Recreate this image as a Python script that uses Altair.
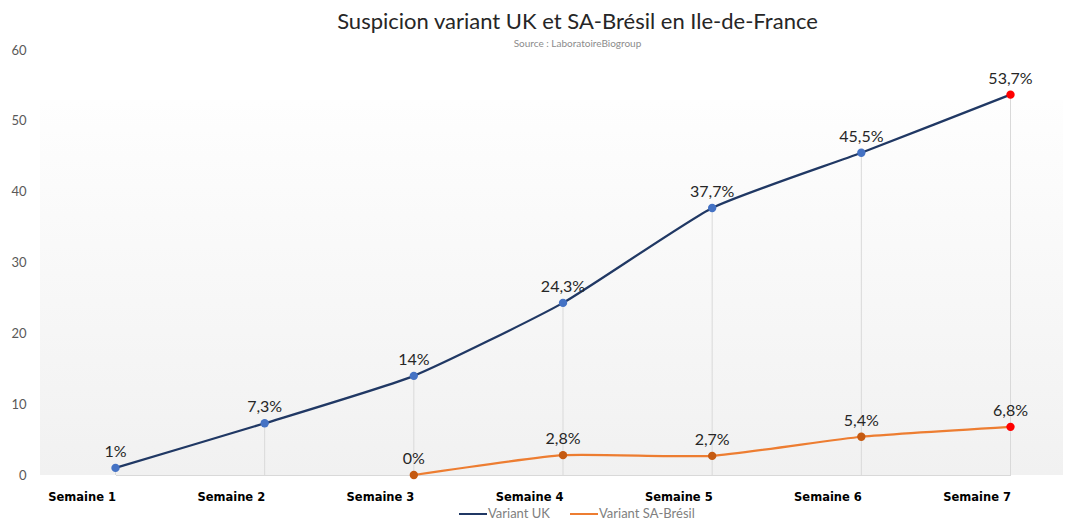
import altair as alt
import pandas as pd

weeks = ["Semaine 1", "Semaine 2", "Semaine 3", "Semaine 4", "Semaine 5", "Semaine 6", "Semaine 7"]
uk_values = [1, 7.3, 14, 24.3, 37.7, 45.5, 53.7]
sa_values = [None, None, 0, 2.8, 2.7, 5.4, 6.8]
series_names = ["Variant UK", "Variant SA-Brésil"]
line_colors = ["#203864", "#ED7D31"]
point_colors = ["#4472C4", "#C55A11"]
last_color = "#FF0000"

W, H = 1023, 425
FONT = "Lato"


def fmt(v):
    s = f"{v:g}".replace(".", ",")
    return s + "%"


rows = []
for name, vals, pc in zip(series_names, [uk_values, sa_values], point_colors):
    for i, (w, v) in enumerate(zip(weeks, vals)):
        if v is None:
            continue
        rows.append({
            "week": w, "value": v, "series": name,
            "pcolor": last_color if i == len(weeks) - 1 else pc,
            "label": fmt(v),
        })
df = pd.DataFrame(rows)

drop = pd.DataFrame({
    "week": weeks,
    "top": [max(u, s if s is not None else 0) for u, s in zip(uk_values, sa_values)],
})

xscale = alt.Scale(type="point", domain=weeks, range=[75.5, 970.5], padding=0)
yscale = alt.Scale(domain=[0, 60])

x_enc = alt.X("week:N", scale=xscale, sort=weeks, title=None,
              axis=alt.Axis(labelAngle=0, labelFont="DejaVu Sans", labelFontWeight="bold",
                            labelFontSize=11.5, labelColor="#000000", labelPadding=22,
                            ticks=False, domainColor="#d9d9d9", domainWidth=1, grid=False))
y_enc = alt.Y("value:Q", scale=yscale, title=None,
              axis=alt.Axis(values=[0, 10, 20, 30, 40, 50, 60], labelColor="#595959",
                            labelFont=FONT, labelFontSize=13, labelPadding=14,
                            ticks=False, domain=False, grid=False))

bg = alt.Chart(pd.DataFrame({"a": [0]})).mark_rect(
    color=alt.Gradient(
        gradient="linear",
        stops=[alt.GradientStop(color="#fefefe", offset=0),
               alt.GradientStop(color="#f1f1f1", offset=1)],
        x1=0, x2=0, y1=0, y2=1,
    )
).encode(x=alt.value(0), x2=alt.value(W + 8), y=alt.value(50), y2=alt.value(H))

drops = alt.Chart(drop).mark_rule(color="#d9d9d9", strokeWidth=1).encode(
    x=alt.X("week:N", scale=xscale, sort=weeks, title=None),
    y=alt.Y("top:Q", scale=yscale, title=None),
    y2=alt.datum(0),
)

lines = alt.Chart(df).mark_line(strokeWidth=2.25, interpolate="cardinal", tension=0.5).encode(
    x=x_enc,
    y=y_enc,
    color=alt.Color("series:N", scale=alt.Scale(domain=series_names, range=line_colors),
                    legend=alt.Legend(title=None, orient="none", direction="horizontal",
                                      legendX=418, legendY=449, symbolType="stroke",
                                      symbolSize=784, symbolStrokeWidth=2,
                                      labelFont=FONT, labelFontSize=13, labelColor="#808080",
                                      labelOffset=0, columnPadding=16)),
)

points = alt.Chart(df).mark_circle(size=70, opacity=1).encode(
    x=alt.X("week:N", scale=xscale, sort=weeks),
    y=alt.Y("value:Q", scale=yscale),
    color=alt.Color("pcolor:N", scale=None, legend=None),
)

labels = alt.Chart(df).mark_text(font=FONT, fontSize=16, color="#262626", baseline="bottom", dy=-8).encode(
    x=alt.X("week:N", scale=xscale, sort=weeks),
    y=alt.Y("value:Q", scale=yscale),
    text="label:N",
)

chart = alt.layer(bg, drops, lines, points, labels).resolve_scale(color="independent").properties(
    width=W, height=H,
    autosize=alt.AutoSizeParams(type="none"),
    padding={"left": 32, "top": 42, "right": 0, "bottom": 48},
    title=alt.TitleParams(
        text="Suspicion variant UK et SA-Brésil en Ile-de-France",
        subtitle="Source : LaboratoireBiogroup",
        font=FONT, fontSize=22, fontWeight="normal", color="#262626",
        subtitleFont=FONT, subtitleFontSize=10, subtitleColor="#8c8c8c",
        subtitlePadding=5, anchor="middle", dx=26, offset=-6,
    ),
).configure_view(stroke=None)

chart.save("out.html", embed_options={"renderer": "svg", "actions": False})
